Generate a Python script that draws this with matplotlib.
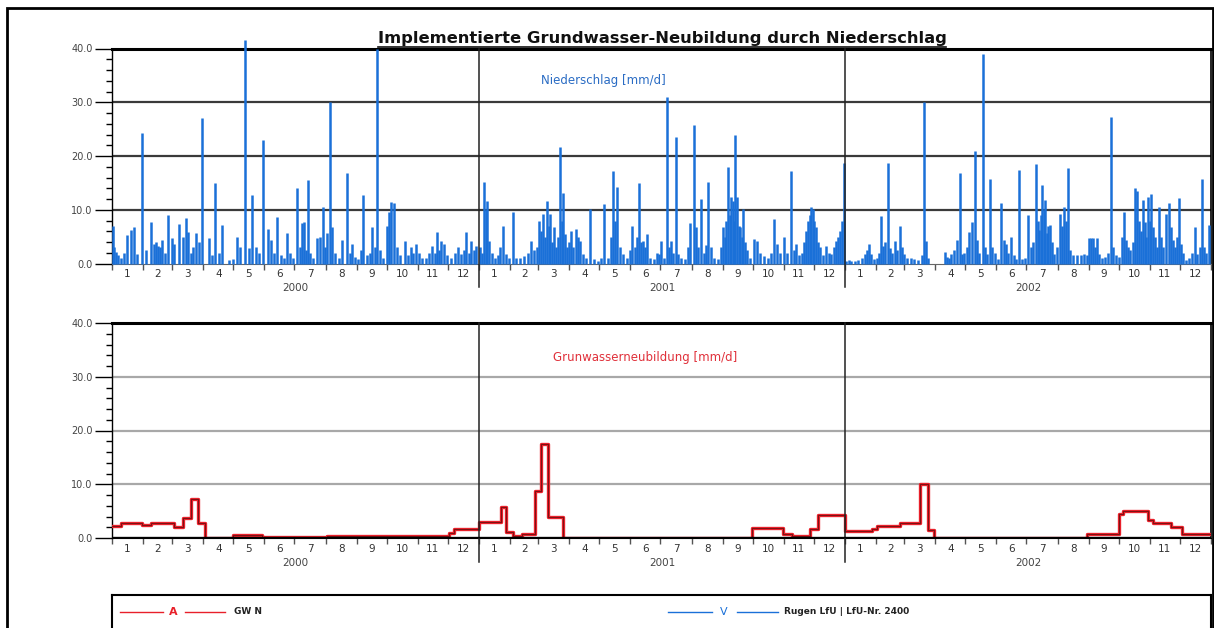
import numpy as np
import matplotlib
matplotlib.use("Agg")
import matplotlib.pyplot as plt
from matplotlib.patches import Rectangle
from matplotlib.lines import Line2D
import matplotlib.transforms as mtrans

years = [2000, 2001, 2002]
year_labels = ["2000", "2001", "2002"]
month_labels = [str(m) for m in range(1, 13)]

# daily precipitation events (day of year, mm/d)
rain_day_2000 = [0, 1, 3, 5, 8, 11, 14, 18, 21, 24, 29, 33, 38, 41, 43, 45, 47, 49, 52, 55,
                 59, 61, 66, 70, 73, 75, 78, 80, 83, 86, 89, 96, 99, 102, 106, 109, 116, 120,
                 124, 127, 132, 136, 139, 143, 146, 150, 155, 158, 161, 164, 168, 171, 174,
                 177, 180, 184, 187, 189, 191, 193, 195, 197, 200, 204, 207, 210, 212, 214,
                 217, 219, 222, 226, 229, 234, 237, 239, 242, 245, 248, 250, 254, 257, 259,
                 262, 264, 267, 270, 274, 276, 278, 281, 284, 287, 292, 295, 298, 300, 303,
                 306, 309, 313, 316, 319, 322, 324, 326, 328, 331, 334, 338, 342, 345, 348,
                 351, 353, 356, 358, 361, 363]
rain_val_2000 = [7.0, 3.0, 2.2, 1.5, 1.0, 2.0, 5.3, 6.2, 6.8, 1.8, 24.2, 2.5, 7.8, 3.7, 4.0,
                 3.2, 3.0, 4.3, 2.0, 9.0, 4.7, 3.7, 7.3, 5.0, 8.4, 5.9, 2.0, 3.0, 5.6, 4.0,
                 27.0, 4.7, 1.5, 14.9, 2.0, 7.1, 0.6, 0.8, 5.0, 3.1, 41.5, 2.8, 12.7, 3.1,
                 2.0, 23.0, 6.5, 4.3, 2.0, 8.7, 1.5, 1.0, 5.6, 1.9, 1.0, 14.0, 3.0, 7.5, 7.8,
                 2.5, 15.5, 1.9, 1.0, 4.7, 5.0, 10.6, 3.0, 5.6, 30.1, 6.8, 1.9, 1.0, 4.3,
                 16.8, 2.0, 3.7, 1.2, 0.9, 2.5, 12.7, 1.5, 2.0, 6.8, 3.0, 40.0, 2.5, 1.0,
                 7.0, 9.5, 11.5, 11.2, 3.0, 1.5, 4.2, 1.5, 3.0, 2.0, 3.6, 2.0, 1.1, 1.1, 2.0,
                 3.3, 2.0, 5.8, 2.5, 4.2, 3.6, 1.5, 1.1, 2.0, 3.0, 1.7, 2.5, 5.8, 2.0, 4.2,
                 2.5, 3.3]

rain_day_2001 = [0, 2, 4, 6, 7, 9, 12, 15, 18, 20, 23, 26, 29, 33, 36, 40, 44, 48, 51, 54,
                 57, 59, 61, 63, 65, 67, 69, 70, 72, 74, 76, 78, 80, 82, 83, 85, 87, 89, 91,
                 93, 96, 98, 100, 103, 106, 110, 114, 118, 121, 124, 128, 131, 133, 135, 137,
                 140, 143, 147, 150, 152, 155, 157, 159, 161, 163, 165, 167, 170, 174, 177,
                 179, 181, 184, 187, 189, 191, 193, 196, 198, 201, 205, 208, 210, 214, 216,
                 218, 221, 224, 226, 228, 231, 234, 238, 241, 243, 245, 246, 248, 250, 251,
                 253, 254, 255, 257, 259, 260, 262, 263, 265, 267, 270, 274, 277, 280, 284,
                 288, 291, 294, 297, 300, 304, 307, 311, 314, 316, 319, 322, 324, 326, 328,
                 330, 331, 333, 334, 336, 338, 340, 343, 346, 349, 351, 354, 356, 358, 360,
                 362, 364]
rain_val_2001 = [3.0, 2.0, 15.1, 10.0, 11.7, 4.2, 2.0, 1.1, 1.5, 3.0, 7.0, 1.7, 1.0, 9.5,
                 1.1, 1.0, 1.4, 2.0, 4.2, 2.5, 3.0, 8.0, 6.0, 9.2, 5.0, 11.7, 7.0, 9.2, 4.0,
                 6.7, 3.0, 5.0, 21.7, 8.0, 13.2, 5.5, 3.0, 4.0, 6.1, 3.0, 6.4, 5.0, 4.2, 1.7,
                 1.0, 10.2, 0.8, 0.5, 1.0, 11.0, 1.0, 5.0, 17.3, 8.0, 14.2, 3.0, 1.7, 1.0,
                 2.5, 7.0, 3.0, 5.0, 15.0, 4.0, 4.2, 3.0, 5.5, 1.1, 0.8, 2.0, 1.7, 4.2, 1.0,
                 31.0, 3.0, 4.2, 2.0, 23.5, 1.7, 1.0, 0.8, 3.0, 7.6, 25.8, 6.8, 3.0, 12.0,
                 2.0, 3.5, 15.2, 3.0, 1.0, 0.8, 3.0, 6.8, 5.0, 8.0, 18.0, 9.0, 12.4, 11.7,
                 8.0, 24.0, 12.4, 7.0, 6.8, 5.0, 10.2, 4.0, 2.5, 1.0, 4.6, 4.2, 2.0, 1.4,
                 1.0, 2.0, 8.3, 3.6, 2.0, 4.9, 2.0, 17.3, 2.5, 3.6, 1.5, 2.0, 4.0, 6.1, 8.0,
                 9.0, 10.5, 10.2, 8.0, 6.8, 4.0, 3.0, 1.5, 3.3, 2.0, 1.7, 3.0, 4.2, 5.0, 6.1,
                 8.0, 18.7]

rain_day_2002 = [0, 3, 5, 9, 12, 16, 19, 21, 23, 25, 28, 31, 33, 35, 37, 39, 42, 44, 46, 49,
                 51, 54, 56, 58, 61, 65, 68, 72, 76, 78, 80, 82, 99, 101, 103, 105, 108, 111,
                 114, 116, 118, 121, 123, 126, 129, 131, 133, 137, 139, 141, 144, 146, 149,
                 152, 155, 158, 160, 162, 165, 168, 170, 173, 176, 179, 182, 185, 187, 190,
                 192, 193, 195, 196, 198, 199, 201, 202, 204, 206, 208, 211, 214, 216, 218,
                 220, 222, 224, 227, 231, 235, 238, 241, 243, 245, 247, 249, 251, 253, 256,
                 259, 262, 265, 267, 270, 273, 276, 278, 280, 282, 284, 287, 289, 291, 293,
                 295, 297, 299, 300, 302, 304, 305, 307, 309, 311, 313, 315, 317, 320, 323,
                 325, 327, 329, 331, 333, 335, 337, 340, 343, 346, 349, 351, 354, 356, 358,
                 360, 363]
rain_val_2002 = [0.5, 0.6, 0.5, 0.4, 0.7, 1.0, 1.7, 2.5, 3.6, 1.7, 0.8, 1.0, 2.0, 8.9, 3.3,
                 4.0, 18.7, 2.8, 2.0, 4.2, 2.5, 7.0, 3.0, 1.7, 1.0, 1.1, 0.8, 0.6, 1.5, 30.0,
                 4.2, 1.0, 2.1, 1.2, 1.0, 1.8, 2.5, 4.3, 16.8, 1.8, 2.0, 3.0, 5.9, 7.8, 21.0,
                 4.3, 2.0, 39.0, 3.0, 1.8, 15.8, 3.0, 2.0, 0.9, 11.2, 4.3, 3.7, 2.0, 5.0, 1.5,
                 0.9, 17.4, 0.9, 1.0, 9.0, 3.0, 4.0, 18.6, 8.0, 6.2, 9.0, 14.6, 10.0, 11.8,
                 5.6, 7.0, 7.1, 4.0, 1.8, 3.0, 9.3, 7.0, 10.6, 8.0, 17.7, 2.5, 1.5, 1.5, 1.5,
                 1.8, 1.5, 4.7, 4.7, 4.7, 3.0, 4.7, 1.8, 1.0, 1.2, 2.0, 27.3, 3.0, 1.5, 1.2,
                 5.0, 9.6, 4.3, 3.0, 2.5, 4.0, 14.0, 13.4, 8.0, 6.0, 11.8, 7.8, 5.0, 12.4,
                 8.0, 13.0, 6.8, 5.0, 3.0, 10.6, 5.0, 3.0, 9.3, 11.2, 6.8, 4.3, 3.0, 5.0,
                 12.1, 3.7, 2.0, 0.6, 1.0, 2.0, 6.8, 1.8, 3.0, 15.8, 3.0, 2.0, 7.1]

# groundwater recharge, step series (start day of year, mm/d)
gw_start_2000 = [0, 9, 30, 39, 62, 71, 79, 86, 93, 121, 150, 214, 336, 341]
gw_val_2000 = [2.2, 2.8, 2.4, 2.8, 2.0, 3.7, 7.2, 2.8, 0.05, 0.5, 0.1, 0.45, 1.0, 1.6]
gw_start_2001 = [0, 22, 27, 34, 43, 56, 62, 69, 84, 272, 303, 312, 330, 338]
gw_val_2001 = [3.0, 5.7, 1.2, 0.45, 0.75, 8.7, 17.4, 4.0, 0.05, 1.9, 0.75, 0.45, 1.6, 4.25]
gw_start_2002 = [0, 27, 32, 55, 75, 83, 89, 241, 273, 277, 302, 307, 325, 336]
gw_val_2002 = [1.25, 1.6, 2.2, 2.8, 10.1, 1.4, 0.05, 0.75, 4.4, 5.1, 3.4, 2.8, 2.0, 0.8]

# --- day offsets ---
t0 = np.datetime64("2000-01-01")
year_off = [int((np.datetime64(f"{y}-01-01") - t0).astype(int)) for y in years]
total = int((np.datetime64("2003-01-01") - t0).astype(int))
month_edges = [int((np.datetime64(f"{y}-{m:02d}-01") - t0).astype(int))
               for y in years for m in range(1, 13)] + [total]
month_mid = [(a + b) / 2 for a, b in zip(month_edges[:-1], month_edges[1:])]
year_mid = [(year_off[i] + (year_off[i + 1] if i < 2 else total)) / 2 for i in range(3)]

rain_x = np.concatenate([np.array(rain_day_2000) + year_off[0],
                         np.array(rain_day_2001) + year_off[1],
                         np.array(rain_day_2002) + year_off[2]]) + 0.5
rain_y = np.array(rain_val_2000 + rain_val_2001 + rain_val_2002)

gw_x = np.concatenate([np.array(gw_start_2000) + year_off[0],
                       np.array(gw_start_2001) + year_off[1],
                       np.array(gw_start_2002) + year_off[2], [total]])
gw_vals = gw_val_2000 + gw_val_2001 + gw_val_2002
gw_y = np.array(gw_vals + [gw_vals[-1]])

W, H = 1214, 628
fig = plt.figure(figsize=(W / 100, H / 100), dpi=100)
plt.rcParams["font.family"] = ["DejaVu Sans"]

ax_l, ax_w = 112 / W, 1099 / W
ax1 = fig.add_axes([ax_l, 1 - 263.5 / H, ax_w, 215 / H])
ax2 = fig.add_axes([ax_l, 1 - 538 / H, ax_w, 215 / H])


def setup(ax, grid_color):
    ax.set_xlim(0, total)
    ax.set_ylim(0, 40)
    ax.set_yticks([0, 10, 20, 30, 40])
    ax.set_yticklabels(["0.0", "10.0", "20.0", "30.0", "40.0"])
    ax.set_yticks(np.arange(0, 41, 2), minor=True)
    ax.tick_params(axis="y", which="major", length=12, width=1, pad=2,
                   labelsize=7, labelcolor="#444444")
    ax.tick_params(axis="y", which="minor", length=4, width=1)
    ax.set_xticks(month_mid)
    ax.set_xticklabels(month_labels * 3)
    ax.tick_params(axis="x", which="major", length=0, pad=4, labelsize=7.5,
                   labelcolor="#333333")
    ax.set_xticks(month_edges, minor=True)
    ax.tick_params(axis="x", which="minor", length=4, width=1, color="#555555")
    for v in (10, 20, 30):
        ax.axhline(v, color=grid_color, lw=1.6, zorder=1)
    for xm, lab in zip(year_mid, year_labels):
        ax.text(xm, -0.115, lab, transform=mtrans.blended_transform_factory(ax.transData, ax.transAxes),
                ha="center", va="center", fontsize=7.5, color="#444444")
    for xo in year_off[1:]:
        ax.axvline(xo, ymin=-0.11, ymax=1, clip_on=False, color="#222222", lw=1.1, zorder=4)
    ax.spines["top"].set_linewidth(2.2)
    ax.spines["right"].set_linewidth(1.2)
    ax.spines["left"].set_linewidth(1.0)


setup(ax1, "#3a3a3a")
setup(ax2, "#a8a8a8")

ax1.vlines(rain_x, 0, rain_y, color="#1a70d8", lw=1.8, zorder=3, clip_on=False)
ax1.spines["bottom"].set_color("#666666")
ax1.text(0.447, 0.85, "Niederschlag [mm/d]", transform=ax1.transAxes, ha="center",
         va="center", fontsize=8.5, color="#2a6cc4")

ax2.step(gw_x, gw_y, where="post", color="#e8202a", lw=2.4, zorder=3)
ax2.step(gw_x, gw_y, where="post", color="#6a1010", lw=0.6, zorder=3)
ax2.axhline(0, color="black", lw=2.4, zorder=4)
ax2.text(0.485, 0.84, "Grunwasserneubildung [mm/d]", transform=ax2.transAxes, ha="center",
         va="center", fontsize=8.5, color="#e0303a")

# title with underline
title = fig.text(662 / W, 1 - 38 / H, "Implementierte Grundwasser-Neubildung durch Niederschlag",
                 ha="center", va="center", fontsize=11.8, fontweight="bold", color="#111111")
fig.canvas.draw()
bb = title.get_window_extent()
fig.add_artist(Line2D([bb.x0 / W, bb.x1 / W], [(bb.y0 - 1) / H] * 2,
                      transform=fig.transFigure, color="#111111", lw=1.2))

# legend box
axl = fig.add_axes([ax_l, -12 / H, ax_w, 45 / H])
axl.set_xlim(112, 1211)
axl.set_ylim(640, 595)
axl.set_xticks([])
axl.set_yticks([])
for s in axl.spines.values():
    s.set_linewidth(1.5)
axl.plot([120, 163], [612, 612], color="#e8202a", lw=1)
axl.text(173, 612, "A", color="#e8202a", fontsize=8, fontweight="bold", ha="center", va="center")
axl.plot([185, 225], [612, 612], color="#e8202a", lw=1)
axl.text(234, 612, "GW N", fontsize=6.5, fontweight="bold", va="center", color="#222222")
axl.plot([668, 712], [612, 612], color="#1a70d8", lw=1)
axl.text(724, 612, "V", color="#1a70d8", fontsize=8, ha="center", va="center")
axl.plot([737, 778], [612, 612], color="#1a70d8", lw=1)
axl.text(784, 612, "Rugen LfU | LfU-Nr. 2400", fontsize=6.5, fontweight="bold", va="center",
         color="#222222")

# outer frame
fig.add_artist(Rectangle((7 / W, -0.05), (1213 - 7) / W, 1.05 - 8 / H,
                         transform=fig.transFigure, fill=False, lw=2, ec="black"))

fig.savefig("out.png", dpi=100)
